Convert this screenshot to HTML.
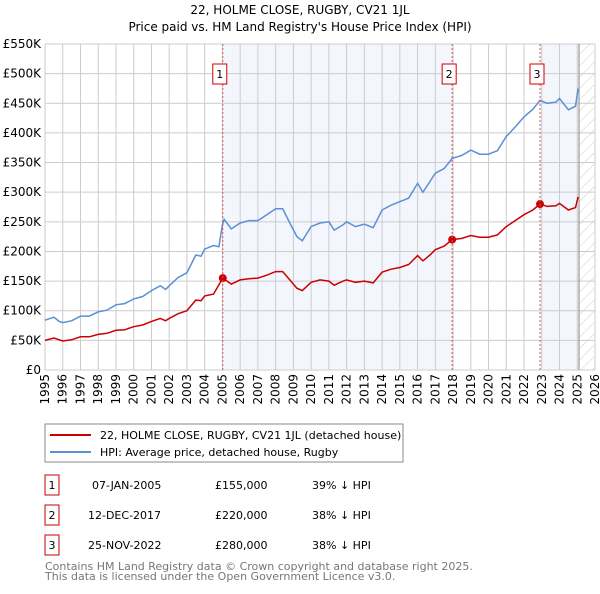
<!DOCTYPE html>
<html><head><meta charset="utf-8"><style>
body{margin:0;background:#fff;font-family:"DejaVu Sans","Liberation Sans",sans-serif;}
svg text{font-family:"DejaVu Sans","Liberation Sans",sans-serif;}
</style></head><body>
<svg id="chart" width="600" height="590" xmlns="http://www.w3.org/2000/svg">
<defs><pattern id="hatch" width="8" height="8" patternUnits="userSpaceOnUse" patternTransform="rotate(45)"><line x1="0" y1="0" x2="0" y2="8" stroke="#ccc" stroke-width="1"/></pattern></defs>
<text x="300" y="14" text-anchor="middle" font-size="12">22, HOLME CLOSE, RUGBY, CV21 1JL</text>
<text x="300" y="31" text-anchor="middle" font-size="12">Price paid vs. HM Land Registry's House Price Index (HPI)</text>
<g id="bg"></g><g id="grid"></g><g id="lines"></g><g id="marks"></g><g id="axes"></g>
<rect x="45" y="424" width="358" height="38" fill="#fff" stroke="#888"/>
<line x1="50" y1="435" x2="91" y2="435" stroke="#cc0000" stroke-width="2"/>
<text x="100" y="439" font-size="11">22, HOLME CLOSE, RUGBY, CV21 1JL (detached house)</text>
<line x1="50" y1="452" x2="91" y2="452" stroke="#5b8fd6" stroke-width="2"/>
<text x="100" y="456" font-size="11">HPI: Average price, detached house, Rugby</text>
<g font-size="11">
<rect x="45" y="475" width="14" height="20" fill="#fff" stroke="#cc0000"/><text x="52" y="489" text-anchor="middle">1</text>
<text x="92" y="489">07-JAN-2005</text><text x="215" y="489">£155,000</text><text x="312" y="489">39% ↓ HPI</text>
<rect x="45" y="505" width="14" height="20" fill="#fff" stroke="#cc0000"/><text x="52" y="519" text-anchor="middle">2</text>
<text x="88" y="519">12-DEC-2017</text><text x="215" y="519">£220,000</text><text x="312" y="519">38% ↓ HPI</text>
<rect x="45" y="535" width="14" height="20" fill="#fff" stroke="#cc0000"/><text x="52" y="549" text-anchor="middle">3</text>
<text x="88" y="549">25-NOV-2022</text><text x="215" y="549">£280,000</text><text x="312" y="549">38% ↓ HPI</text>
</g>
<text x="45" y="570" font-size="11" fill="#777">Contains HM Land Registry data © Crown copyright and database right 2025.</text>
<text x="45" y="580" font-size="11" fill="#777">This data is licensed under the Open Government Licence v3.0.</text>
</svg>
<script>
const hpiYears=[1995,1995.5,1995.8,1996,1996.5,1997,1997.5,1998,1998.5,1999,1999.5,2000,2000.5,2001,2001.5,2001.8,2002,2002.5,2003,2003.5,2003.8,2004,2004.5,2004.8,2005,2005.1,2005.5,2006,2006.5,2007,2007.5,2008,2008.4,2008.8,2009.2,2009.5,2010,2010.5,2011,2011.3,2011.8,2012,2012.5,2013,2013.5,2014,2014.5,2015,2015.5,2016,2016.3,2016.7,2017,2017.5,2017.95,2018.5,2019,2019.5,2020,2020.5,2021,2021.5,2022,2022.5,2022.9,2023.3,2023.8,2024,2024.5,2024.9,2025.05];
const hpiValues=[84,89,82,80,83,91,91,98,101,110,112,120,124,134,142,136,142,156,164,194,192,204,210,208,245,254,238,248,252,252,262,272,272,248,225,218,242,248,250,236,245,250,242,246,240,270,278,284,290,315,300,318,332,340,357,362,371,364,364,370,394,410,427,440,455,450,452,458,439,445,475];
const saleYears=[2005.02,2017.95,2022.9];
const saleValues=[155,220,280];
const ppYears=[1995,1995.5,1996,1996.5,1997,1997.5,1998,1998.5,1999,1999.5,2000,2000.5,2001,2001.5,2001.8,2002,2002.5,2003,2003.5,2003.8,2004,2004.5,2005.02,2005.5,2006,2006.5,2007,2007.5,2008,2008.4,2008.8,2009.2,2009.5,2010,2010.5,2011,2011.3,2011.8,2012,2012.5,2013,2013.5,2014,2014.5,2015,2015.5,2016,2016.3,2016.7,2017,2017.5,2017.95,2018.5,2019,2019.5,2020,2020.5,2021,2021.5,2022,2022.5,2022.9,2023.3,2023.8,2024,2024.5,2024.9,2025.05];
const ppValues=[50,54,49,51,56,56,60,62,67,68,73,76,82,87,83,87,95,100,118,117,125,128,155,145,152,154,155,160,166,166,152,138,134,148,152,150,143,150,152,148,150,147,165,170,173,178,193,184,194,203,209,220,222,227,224,224,228,242,252,262,270,280,276,277,281,270,274,292];
const yTicks=[0,50,100,150,200,250,300,350,400,450,500,550];
const yTickLabels=["£0","£50K","£100K","£150K","£200K","£250K","£300K","£350K","£400K","£450K","£500K","£550K"];
const xTicks=[1995,1996,1997,1998,1999,2000,2001,2002,2003,2004,2005,2006,2007,2008,2009,2010,2011,2012,2013,2014,2015,2016,2017,2018,2019,2020,2021,2022,2023,2024,2025,2026];
const NS="http://www.w3.org/2000/svg";
const X0=45,X1=595,Y0=370,Y1=44;
function xs(v){return X0+(v-1995)/31*(X1-X0);}
function ys(v){return Y0-v/550*(Y0-Y1);}
function mk(tag,attrs,parent){const e=document.createElementNS(NS,tag);for(const k in attrs)e.setAttribute(k,attrs[k]);document.getElementById(parent).appendChild(e);return e;}
let r;
r=mk('rect',{x:xs(2005.02),y:Y1,width:xs(2017.95)-xs(2005.02),height:Y0-Y1,fill:'#eef3fc',opacity:0.7},'bg');


r=mk('rect',{x:xs(2022.9),y:Y1,width:xs(2025.1)-xs(2022.9),height:Y0-Y1,fill:'#eef3fc',opacity:0.7},'bg');


r=mk('rect',{x:xs(2025.1),y:Y1,width:X1-xs(2025.1),height:Y0-Y1,fill:'url(#hatch)'},'bg');


yTicks.forEach((t,i)=>{
  const l=mk('line',{x1:X0,x2:X1,y1:ys(t),y2:ys(t),stroke:'#ccc','stroke-width':1},'grid');
  
  
  const tx=mk('text',{x:41,y:ys(t)+4,'text-anchor':'end','font-size':12},'axes');
  tx.textContent=yTickLabels[i];
  
  
});
xTicks.forEach(t=>{
  const l=mk('line',{x1:xs(t),x2:xs(t),y1:Y1,y2:Y0,stroke:'#ccc','stroke-width':1},'grid');
  
  
  const tx=mk('text',{x:0,y:0,'text-anchor':'end','font-size':12,transform:`translate(${xs(t)+4},374) rotate(-90)`},'axes');
  tx.textContent=t;
  
  
});
r=mk('line',{x1:xs(2025.1),x2:xs(2025.1),y1:Y1,y2:Y0,stroke:'#888','stroke-width':1},'grid');


saleYears.forEach((y,i)=>{
  const l=mk('line',{x1:xs(y),x2:xs(y),y1:Y1,y2:Y0,stroke:'#e05050','stroke-width':1,'stroke-dasharray':'2,2'},'marks');
  
  
  const b=mk('rect',{x:xs(y)-10,y:64,width:14,height:20,fill:'#fff',stroke:'#cc0000'},'marks');
  
  
  const t=mk('text',{x:xs(y)-3,y:78,'text-anchor':'middle','font-size':11},'marks');
  t.textContent=String(i+1);
  
  
});
function path(xv,yv){return xv.map((x,i)=>(i?'L':'M')+xs(x).toFixed(1)+','+ys(yv[i]).toFixed(1)).join('');}
r=mk('path',{d:path(hpiYears,hpiValues),fill:'none',stroke:'#5b8fd6','stroke-width':1.5},'lines');


r=mk('path',{d:path(ppYears,ppValues),fill:'none',stroke:'#cc0000','stroke-width':1.5},'lines');


saleYears.forEach((y,i)=>{
  const c=mk('circle',{cx:xs(y),cy:ys(saleValues[i]),r:4,fill:'#cc0000'},'lines');
  
  
});
</script>
</body></html>
